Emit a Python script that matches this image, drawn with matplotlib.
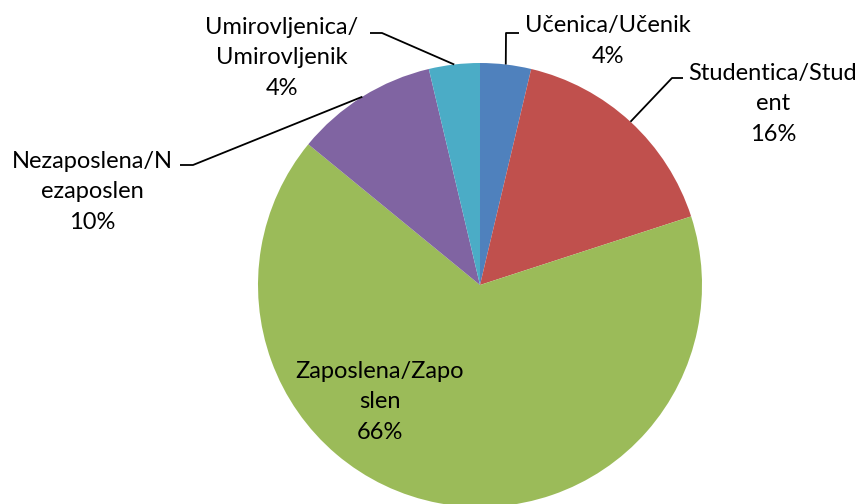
import numpy as np
import matplotlib
matplotlib.use("Agg")
import matplotlib.pyplot as plt

categories = ["Učenica/Učenik", "Studentica/Student", "Zaposlena/Zaposlen",
              "Nezaposlena/Nezaposlen", "Umirovljenica/Umirovljenik"]
values = [5, 22, 89, 14, 5]
label_texts = ["Učenica/Učenik", "Studentica/Stud\nent", "Zaposlena/Zapo\nslen",
               "Nezaposlena/N\nezaposlen", "Umirovljenica/\nUmirovljenik"]
colors = ["#4F81BD", "#C0504D", "#9BBB59", "#8064A2", "#4BACC6"]

W, H = 863, 504
fig = plt.figure(figsize=(W / 100, H / 100), dpi=100)
ax = fig.add_axes([0, 0, 1, 1])

cx, cy, r = 480, H - 285, 222
wedges, _ = ax.pie(values, colors=colors, startangle=90, counterclock=False,
                   center=(cx, cy), radius=r, frame=True,
                   wedgeprops=dict(linewidth=0))
ax.set_xlim(0, W)
ax.set_ylim(0, H)
ax.set_aspect("equal")
ax.axis("off")

total = sum(values)
pcts = [f"{round(v / total * 100):.0f}%" for v in values]

font = dict(family="Lato", fontsize=17, color="black")
LS = 1.56

# label layout: text block centre (x, y from top), elbow and end of leader line
layout = {
    0: dict(tx=608, ty=41, elbow=(506, 33), end=(519, 33)),
    1: dict(tx=773, ty=104, elbow=(672, 78), end=(683, 78)),
    3: dict(tx=92, ty=192, elbow=(193, 165), end=(180, 165)),
    4: dict(tx=282, ty=58, elbow=(382, 33), end=(370, 33)),
}

for i, w in enumerate(wedges):
    mid = np.deg2rad((w.theta1 + w.theta2) / 2)
    text = label_texts[i] + "\n" + pcts[i]
    if i == 2:
        ax.text(380, H - 402, text, ha="center", va="center",
                linespacing=LS, **font)
        continue
    L = layout[i]
    px, py = cx + r * np.cos(mid), cy + r * np.sin(mid)
    ex, ey = L["elbow"]
    nx, ny = L["end"]
    ax.plot([px, ex, nx], [py, H - ey, H - ny], color="black", lw=1.3,
            solid_capstyle="butt")
    ax.text(L["tx"], H - L["ty"], text, ha="center", va="center",
            linespacing=LS, **font)

fig.savefig("out.png", dpi=100)
